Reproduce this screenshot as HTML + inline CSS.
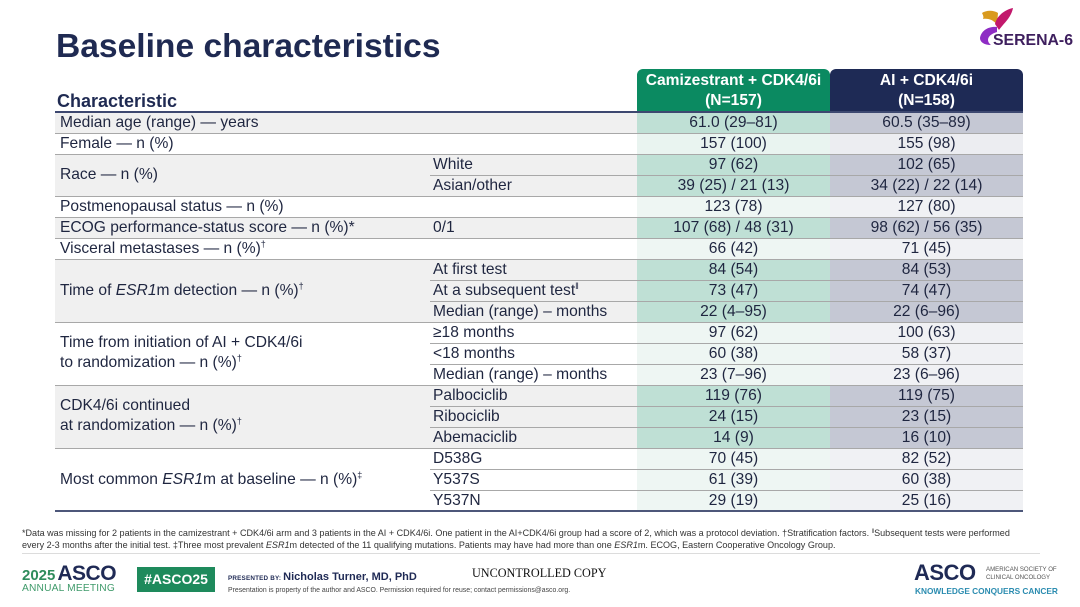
<!DOCTYPE html>
<html><head><meta charset="utf-8">
<style>
*{margin:0;padding:0;box-sizing:border-box}
body{width:1080px;height:607px;background:#fff;position:relative;overflow:hidden;font-family:"Liberation Sans",Arial,sans-serif;color:#1f2640}
.a{position:absolute;white-space:nowrap}
.title{left:56px;top:27px;font-size:33.6px;font-weight:bold;color:#1f2a52;line-height:40px}
.char{left:57px;top:90px;font-size:18px;font-weight:bold;color:#1f2a52;line-height:22px}
.hdr{position:absolute;top:69px;height:43px;color:#fff;font-weight:bold;font-size:15.6px;line-height:20px;text-align:center;padding-top:2px;border-radius:6px 6px 0 0}
.bg{position:absolute}
.ln{position:absolute;height:1px;background:#a8a8a8}
.t{position:absolute;font-size:15.6px;line-height:21px;white-space:nowrap;color:#1f2640}
.v{position:absolute;font-size:15.6px;line-height:21px;text-align:center;white-space:nowrap;color:#1f2640}
sup{font-size:9px;vertical-align:6px;line-height:0}
.fn{left:22px;font-size:9.05px;color:#333;line-height:12px}
</style></head><body>

<div class="a title">Baseline characteristics</div>
<div class="a char">Characteristic</div>

<!-- SERENA-6 logo -->
<svg class="a" style="left:974px;top:4px" width="104" height="46" viewBox="0 0 104 46">
  <path d="M8 9 C12 6 20 6 24 9 L23 21 C20 16 14 14 9 15 C10 13 9 11 8 9 Z" fill="#d99a1e"/>
  <path d="M39 4 C30 6 23 12 21 20 L25 26 C30 19 37 14 39 4 Z" fill="#c2186c"/>
  <path d="M23 23 C14 22 7 27 6 34 C6 38 10 41 17 41 C12 37 13 31 23 28 Z" fill="#8e2cc4"/>
  <text x="19" y="41" font-family="Liberation Sans, sans-serif" font-weight="bold" font-size="16" fill="#3e1f5e" textLength="80" lengthAdjust="spacingAndGlyphs">SERENA-6</text>
</svg>

<!-- header cells -->
<div class="hdr" style="left:637px;width:193px;background:#0b8a61">Camizestrant + CDK4/6i<br>(N=157)</div>
<div class="hdr" style="left:830px;width:193px;background:#1e2a55">AI + CDK4/6i<br>(N=158)</div>

<!-- row backgrounds -->
<div class="bg" style="left:55px;top:112px;width:582px;height:21px;background:#f0f0f0"></div>
<div class="bg" style="left:637px;top:112px;width:193px;height:21px;background:#bfe0d5"></div>
<div class="bg" style="left:830px;top:112px;width:193px;height:21px;background:#c5c8d4"></div>

<div class="bg" style="left:637px;top:133px;width:193px;height:21px;background:#e9f4f0"></div>
<div class="bg" style="left:830px;top:133px;width:193px;height:21px;background:#ecedf1"></div>

<div class="bg" style="left:55px;top:154px;width:582px;height:42px;background:#f0f0f0"></div>
<div class="bg" style="left:637px;top:154px;width:193px;height:42px;background:#bfe0d5"></div>
<div class="bg" style="left:830px;top:154px;width:193px;height:42px;background:#c5c8d4"></div>

<div class="bg" style="left:637px;top:196px;width:193px;height:21px;background:#eef6f3"></div>
<div class="bg" style="left:830px;top:196px;width:193px;height:21px;background:#f0f1f4"></div>

<div class="bg" style="left:55px;top:217px;width:582px;height:21px;background:#f0f0f0"></div>
<div class="bg" style="left:637px;top:217px;width:193px;height:21px;background:#bfe0d5"></div>
<div class="bg" style="left:830px;top:217px;width:193px;height:21px;background:#c5c8d4"></div>

<div class="bg" style="left:637px;top:238px;width:193px;height:21px;background:#eef6f3"></div>
<div class="bg" style="left:830px;top:238px;width:193px;height:21px;background:#f0f1f4"></div>

<div class="bg" style="left:55px;top:259px;width:582px;height:63px;background:#f0f0f0"></div>
<div class="bg" style="left:637px;top:259px;width:193px;height:63px;background:#bfe0d5"></div>
<div class="bg" style="left:830px;top:259px;width:193px;height:63px;background:#c5c8d4"></div>

<div class="bg" style="left:637px;top:322px;width:193px;height:63px;background:#eef6f3"></div>
<div class="bg" style="left:830px;top:322px;width:193px;height:63px;background:#f0f1f4"></div>

<div class="bg" style="left:55px;top:385px;width:582px;height:63px;background:#f0f0f0"></div>
<div class="bg" style="left:637px;top:385px;width:193px;height:63px;background:#bfe0d5"></div>
<div class="bg" style="left:830px;top:385px;width:193px;height:63px;background:#c5c8d4"></div>

<div class="bg" style="left:637px;top:448px;width:193px;height:63px;background:#eef6f3"></div>
<div class="bg" style="left:830px;top:448px;width:193px;height:63px;background:#f0f1f4"></div>

<!-- lines -->
<div class="bg" style="left:55px;top:111px;width:968px;height:2px;background:#3d4870"></div>
<div class="ln" style="left:55px;top:133px;width:968px"></div>
<div class="ln" style="left:55px;top:154px;width:968px"></div>
<div class="ln" style="left:430px;top:175px;width:593px"></div>
<div class="ln" style="left:55px;top:196px;width:968px"></div>
<div class="ln" style="left:55px;top:217px;width:968px"></div>
<div class="ln" style="left:55px;top:238px;width:968px"></div>
<div class="ln" style="left:55px;top:259px;width:968px"></div>
<div class="ln" style="left:430px;top:280px;width:593px"></div>
<div class="ln" style="left:430px;top:301px;width:593px"></div>
<div class="ln" style="left:55px;top:322px;width:968px"></div>
<div class="ln" style="left:430px;top:343px;width:593px"></div>
<div class="ln" style="left:430px;top:364px;width:593px"></div>
<div class="ln" style="left:55px;top:385px;width:968px"></div>
<div class="ln" style="left:430px;top:406px;width:593px"></div>
<div class="ln" style="left:430px;top:427px;width:593px"></div>
<div class="ln" style="left:55px;top:448px;width:968px"></div>
<div class="ln" style="left:430px;top:469px;width:593px"></div>
<div class="ln" style="left:430px;top:490px;width:593px"></div>
<div class="bg" style="left:55px;top:510px;width:968px;height:2px;background:#4d577a"></div>

<!-- labels -->
<div class="t" style="left:60px;top:112px">Median age (range) — years</div>
<div class="t" style="left:60px;top:133px">Female — n (%)</div>
<div class="t" style="left:60px;top:164px">Race — n (%)</div>
<div class="t" style="left:60px;top:196px">Postmenopausal status — n (%)</div>
<div class="t" style="left:60px;top:217px">ECOG performance-status score — n (%)*</div>
<div class="t" style="left:60px;top:238px">Visceral metastases — n (%)<sup>†</sup></div>
<div class="t" style="left:60px;top:280px">Time of <i>ESR1</i>m detection — n (%)<sup>†</sup></div>
<div class="t" style="left:60px;top:333px;line-height:20px">Time from initiation of AI + CDK4/6i<br>to randomization — n (%)<sup>†</sup></div>
<div class="t" style="left:60px;top:396px;line-height:20px">CDK4/6i continued<br>at randomization — n (%)<sup>†</sup></div>
<div class="t" style="left:60px;top:469px">Most common <i>ESR1</i>m at baseline — n (%)<sup>‡</sup></div>

<!-- sub labels -->
<div class="t" style="left:433px;top:154px">White</div>
<div class="t" style="left:433px;top:175px">Asian/other</div>
<div class="t" style="left:433px;top:217px">0/1</div>
<div class="t" style="left:433px;top:259px">At first test</div>
<div class="t" style="left:433px;top:280px">At a subsequent test<sup>‖</sup></div>
<div class="t" style="left:433px;top:301px">Median (range) – months</div>
<div class="t" style="left:433px;top:322px">≥18 months</div>
<div class="t" style="left:433px;top:343px">&lt;18 months</div>
<div class="t" style="left:433px;top:364px">Median (range) – months</div>
<div class="t" style="left:433px;top:385px">Palbociclib</div>
<div class="t" style="left:433px;top:406px">Ribociclib</div>
<div class="t" style="left:433px;top:427px">Abemaciclib</div>
<div class="t" style="left:433px;top:448px">D538G</div>
<div class="t" style="left:433px;top:469px">Y537S</div>
<div class="t" style="left:433px;top:490px">Y537N</div>

<!-- values col 1 -->
<div class="v" style="left:637px;width:193px;top:112px">61.0 (29–81)</div>
<div class="v" style="left:637px;width:193px;top:133px">157 (100)</div>
<div class="v" style="left:637px;width:193px;top:154px">97 (62)</div>
<div class="v" style="left:637px;width:193px;top:175px">39 (25) / 21 (13)</div>
<div class="v" style="left:637px;width:193px;top:196px">123 (78)</div>
<div class="v" style="left:637px;width:193px;top:217px">107 (68) / 48 (31)</div>
<div class="v" style="left:637px;width:193px;top:238px">66 (42)</div>
<div class="v" style="left:637px;width:193px;top:259px">84 (54)</div>
<div class="v" style="left:637px;width:193px;top:280px">73 (47)</div>
<div class="v" style="left:637px;width:193px;top:301px">22 (4–95)</div>
<div class="v" style="left:637px;width:193px;top:322px">97 (62)</div>
<div class="v" style="left:637px;width:193px;top:343px">60 (38)</div>
<div class="v" style="left:637px;width:193px;top:364px">23 (7–96)</div>
<div class="v" style="left:637px;width:193px;top:385px">119 (76)</div>
<div class="v" style="left:637px;width:193px;top:406px">24 (15)</div>
<div class="v" style="left:637px;width:193px;top:427px">14 (9)</div>
<div class="v" style="left:637px;width:193px;top:448px">70 (45)</div>
<div class="v" style="left:637px;width:193px;top:469px">61 (39)</div>
<div class="v" style="left:637px;width:193px;top:490px">29 (19)</div>

<!-- values col 2 -->
<div class="v" style="left:830px;width:193px;top:112px">60.5 (35–89)</div>
<div class="v" style="left:830px;width:193px;top:133px">155 (98)</div>
<div class="v" style="left:830px;width:193px;top:154px">102 (65)</div>
<div class="v" style="left:830px;width:193px;top:175px">34 (22) / 22 (14)</div>
<div class="v" style="left:830px;width:193px;top:196px">127 (80)</div>
<div class="v" style="left:830px;width:193px;top:217px">98 (62) / 56 (35)</div>
<div class="v" style="left:830px;width:193px;top:238px">71 (45)</div>
<div class="v" style="left:830px;width:193px;top:259px">84 (53)</div>
<div class="v" style="left:830px;width:193px;top:280px">74 (47)</div>
<div class="v" style="left:830px;width:193px;top:301px">22 (6–96)</div>
<div class="v" style="left:830px;width:193px;top:322px">100 (63)</div>
<div class="v" style="left:830px;width:193px;top:343px">58 (37)</div>
<div class="v" style="left:830px;width:193px;top:364px">23 (6–96)</div>
<div class="v" style="left:830px;width:193px;top:385px">119 (75)</div>
<div class="v" style="left:830px;width:193px;top:406px">23 (15)</div>
<div class="v" style="left:830px;width:193px;top:427px">16 (10)</div>
<div class="v" style="left:830px;width:193px;top:448px">82 (52)</div>
<div class="v" style="left:830px;width:193px;top:469px">60 (38)</div>
<div class="v" style="left:830px;width:193px;top:490px">25 (16)</div>

<!-- footnotes -->
<div class="a fn" style="top:527px">*Data was missing for 2 patients in the camizestrant + CDK4/6i arm and 3 patients in the AI + CDK4/6i. One patient in the AI+CDK4/6i group had a score of 2, which was a protocol deviation. †Stratification factors. <sup style="font-size:6px;vertical-align:3px">‖</sup>Subsequent tests were performed</div>
<div class="a fn" style="top:539px">every 2-3 months after the initial test. ‡Three most prevalent <i>ESR1</i>m detected of the 11 qualifying mutations. Patients may have had more than one <i>ESR1</i>m. ECOG, Eastern Cooperative Oncology Group.</div>
<div class="bg" style="left:22px;top:553px;width:1018px;height:1px;background:#dcdcdc"></div>

<!-- footer left -->
<div class="a" style="left:22px;top:563px;line-height:22px"><span style="font-size:15px;font-weight:bold;color:#2f8c5c">2025</span><span style="font-size:21px;font-weight:bold;color:#1f2a55;letter-spacing:-0.5px;margin-left:2px">ASCO</span></div>
<div class="a" style="left:22px;top:583px;font-size:10.2px;color:#3f9a6a;line-height:12px;letter-spacing:0.2px">ANNUAL MEETING</div>
<div class="a" style="left:137px;top:567px;width:78px;height:25px;background:#1e8a5c;color:#fff;font-weight:bold;font-size:14px;line-height:25px;text-align:center">#ASCO25</div>
<div class="a" style="left:228px;top:569px;line-height:14px"><span style="font-size:6.3px;font-weight:bold;color:#1f2a55;letter-spacing:0.2px">PRESENTED BY: </span><span style="font-size:11px;font-weight:bold;color:#1f2a55">Nicholas Turner, MD, PhD</span></div>
<div class="a" style="left:228px;top:586px;font-size:6.9px;color:#444;line-height:9px">Presentation is property of the author and ASCO. Permission required for reuse; contact permissions@asco.org.</div>
<div class="a" style="left:472px;top:566px;font-family:'Liberation Serif',serif;font-size:12.2px;color:#111;line-height:14px">UNCONTROLLED COPY</div>

<!-- footer right -->
<div class="a" style="left:914px;top:561px;font-size:22px;font-weight:bold;color:#1f2a55;line-height:24px;letter-spacing:-0.5px">ASCO</div>
<div class="a" style="left:986px;top:566px;font-size:6.1px;color:#555;line-height:8px">AMERICAN SOCIETY OF<br>CLINICAL ONCOLOGY</div>
<div class="a" style="left:915px;top:586px;font-size:8.3px;font-weight:bold;color:#2b8cb0;line-height:10px;letter-spacing:0">KNOWLEDGE CONQUERS CANCER</div>

</body></html>
